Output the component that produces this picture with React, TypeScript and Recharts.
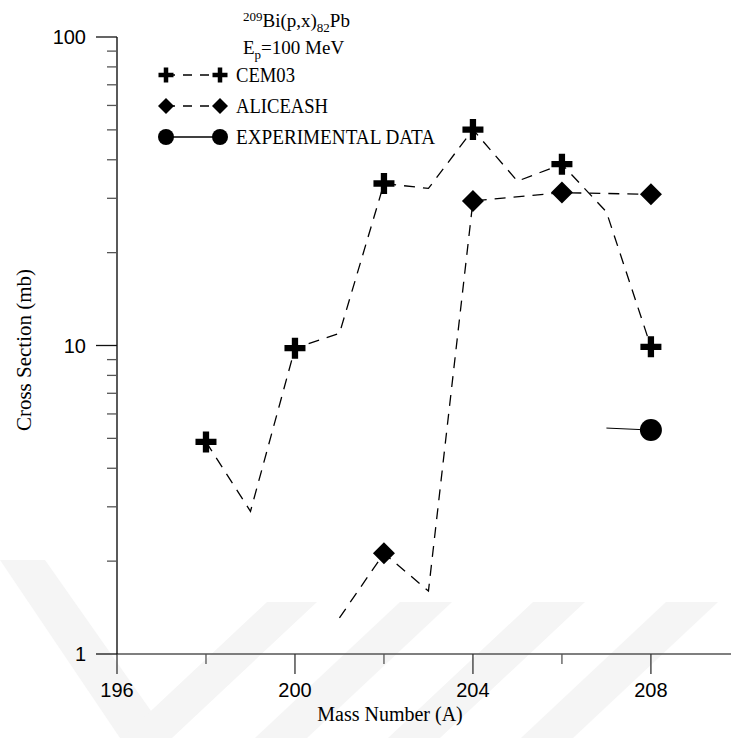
import React from 'react';
import { LineChart, Line, XAxis, YAxis } from 'recharts';

// mass numbers of the Pb isotopes (x axis)
const massNumbers = [198, 199, 200, 201, 202, 203, 204, 205, 206, 207, 208];
// cross sections in mb (null = no value)
const cem03 = [4.87, 2.9, 9.8, 10.95, 33.5, 32.3, 50.1, 34.1, 38.7, 27.1, 9.9];
const aliceash = [null, null, null, 1.31, 2.12, 1.6, 29.4, null, 31.3, null, 30.9];
const experimental = [null, null, null, null, null, null, null, null, null, 5.4, 5.32];

const xTicks = [196, 198, 200, 202, 204, 206, 208];
const xLabels = [196, 200, 204, 208];
const yTicks = [1, 2, 3, 4, 5, 6, 7, 8, 9, 10, 20, 30, 40, 50, 60, 70, 80, 90, 100];
const yLabels = [1, 10, 100];

const chartData = massNumbers.map((a, i) => ({
  a,
  cem: cem03[i],
  alice: aliceash[i],
  exp: experimental[i],
}));

const SERIF = '"Liberation Serif", "Times New Roman", serif';
const SANS = '"Liberation Sans", Arial, sans-serif';

const Plus = ({ cx, cy, s }: { cx: number; cy: number; s: number }) => {
  const h = s / 2;
  const t = s * 0.15;
  return (
    <path
      d={`M${cx - t},${cy - h}H${cx + t}V${cy - t}H${cx + h}V${cy + t}H${cx + t}V${cy + h}H${cx - t}V${cy + t}H${cx - h}V${cy - t}H${cx - t}Z`}
      fill="#000"
    />
  );
};

const Diamond = ({ cx, cy, s }: { cx: number; cy: number; s: number }) => {
  const h = s / 2;
  return <path d={`M${cx},${cy - h}L${cx + h},${cy}L${cx},${cy + h}L${cx - h},${cy}Z`} fill="#000" />;
};

// markers are only drawn on the even mass numbers
const evenOnly = (kind: string) => (props: any) => {
  const { cx, cy, payload, index, value } = props;
  if (value == null || payload.a % 2 !== 0 || cx == null) return <g key={`d${kind}${index}`} />;
  if (kind === 'plus') return <g key={`d${kind}${index}`}><Plus cx={cx} cy={cy} s={21} /></g>;
  if (kind === 'diamond') return <g key={`d${kind}${index}`}><Diamond cx={cx} cy={cy} s={22} /></g>;
  return <circle key={`d${kind}${index}`} cx={cx} cy={cy} r={11} fill="#000" />;
};

const XTick = (props: any) => {
  const { x, y, payload } = props;
  const major = xLabels.includes(payload.value);
  const len = major ? 20 : 10;
  return (
    <g>
      <line x1={x} y1={y} x2={x} y2={y + len} stroke={major ? '#333' : '#555'} strokeWidth={1.3} />
      {major && (
        <text x={x} y={y + 43} textAnchor="middle" fontFamily={SANS} fontSize={20} fill="#000">
          {payload.value}
        </text>
      )}
    </g>
  );
};

const YTick = (props: any) => {
  const { x, y, payload } = props;
  const major = yLabels.includes(payload.value);
  const len = major ? 21 : 10;
  return (
    <g>
      <line x1={x - len} y1={y} x2={x} y2={y} stroke={major ? '#111' : '#555'} strokeWidth={1.3} />
      {major && (
        <text x={x - 31} y={y + 7} textAnchor="end" fontFamily={SANS} fontSize={20} fill="#000">
          {payload.value}
        </text>
      )}
    </g>
  );
};

// faint diagonal watermark behind the chart
const watermark = [
  '0,560 45,560 170,738 120,738',
  '267,602 317,602 172,738 122,738',
  '400,602 452,602 307,738 255,738',
  '533,602 585,602 440,738 388,738',
  '666,602 718,602 573,738 521,738',
];

const legendRows = [
  { kind: 'plus', label: 'CEM03', y: 75, dash: '9 8', w: 59 },
  { kind: 'diamond', label: 'ALICEASH', y: 106, dash: '9 8', w: 92 },
  { kind: 'circle', label: 'EXPERIMENTAL DATA', y: 137, dash: undefined, w: 199 },
];

export default function App() {
  return (
    <div style={{ position: 'absolute', left: 0, top: 0, width: 731, height: 738, background: '#fff' }}>
      <svg width={731} height={738} style={{ position: 'absolute', left: 0, top: 0 }}>
        {watermark.map((p, i) => (
          <polygon key={i} points={p} fill="#f5f5f5" />
        ))}
      </svg>
      <div style={{ position: 'absolute', left: 0, top: 0 }}>
        <LineChart width={731} height={738} data={chartData} margin={{ top: 37, right: 0, bottom: 0, left: 0 }}>
          <XAxis
            dataKey="a"
            type="number"
            domain={[196, 209.8]}
            ticks={xTicks}
            allowDataOverflow
            height={84}
            tickSize={0}
            tickMargin={0}
            tickLine={false}
            tick={<XTick />}
            axisLine={{ stroke: '#555', strokeWidth: 1.3 }}
          />
          <YAxis
            type="number"
            scale="log"
            domain={[1, 100]}
            ticks={yTicks}
            allowDataOverflow
            width={117}
            tickSize={0}
            tickMargin={0}
            tickLine={false}
            tick={<YTick />}
            axisLine={{ stroke: '#000', strokeWidth: 1.3 }}
            interval={0}
          />
          <Line
            dataKey="cem"
            stroke="#000"
            strokeWidth={1.3}
            strokeDasharray="11 8"
            dot={evenOnly('plus')}
            activeDot={false}
            isAnimationActive={false}
          />
          <Line
            dataKey="alice"
            stroke="#000"
            strokeWidth={1.3}
            strokeDasharray="11 8"
            connectNulls
            dot={evenOnly('diamond')}
            activeDot={false}
            isAnimationActive={false}
          />
          <Line
            dataKey="exp"
            stroke="#000"
            strokeWidth={1}
            connectNulls
            dot={evenOnly('circle')}
            activeDot={false}
            isAnimationActive={false}
          />
        </LineChart>
      </div>
      <svg width={731} height={738} style={{ position: 'absolute', left: 0, top: 0, pointerEvents: 'none' }}>
        <text x={243} y={27} fontFamily={SERIF} fontSize={19} fill="#000">
          <tspan fontSize={13} dy={-6}>209</tspan>
          <tspan dy={6}>Bi(p,x)</tspan>
          <tspan fontSize={13} dy={5}>82</tspan>
          <tspan dy={-5}>Pb</tspan>
        </text>
        <text x={243} y={54} fontFamily={SERIF} fontSize={19} fill="#000">
          <tspan>E</tspan>
          <tspan fontSize={13} dy={5}>p</tspan>
          <tspan dy={-5}>=100 MeV</tspan>
        </text>
        {legendRows.map((r) => (
          <g key={r.label}>
            <line x1={166} y1={r.y} x2={220} y2={r.y} stroke="#000" strokeWidth={1.3} strokeDasharray={r.dash} />
            {r.kind === 'plus' && (
              <>
                <Plus cx={166} cy={r.y} s={15} />
                <Plus cx={220} cy={r.y} s={15} />
              </>
            )}
            {r.kind === 'diamond' && (
              <>
                <Diamond cx={166} cy={r.y} s={16} />
                <Diamond cx={220} cy={r.y} s={16} />
              </>
            )}
            {r.kind === 'circle' && (
              <>
                <circle cx={166} cy={r.y} r={8} fill="#000" />
                <circle cx={220} cy={r.y} r={8} fill="#000" />
              </>
            )}
            <text
              x={236}
              y={r.y + 7}
              fontFamily={SERIF}
              fontSize={21}
              textLength={r.w}
              lengthAdjust="spacingAndGlyphs"
              fill="#000"
            >
              {r.label}
            </text>
          </g>
        ))}
        <text x={390} y={721} textAnchor="middle" fontFamily={SERIF} fontSize={20} fill="#000">
          Mass Number (A)
        </text>
        <text
          transform="translate(31,350) rotate(-90)"
          textAnchor="middle"
          fontFamily={SERIF}
          fontSize={21}
          fill="#000"
        >
          Cross Section (mb)
        </text>
      </svg>
    </div>
  );
}
